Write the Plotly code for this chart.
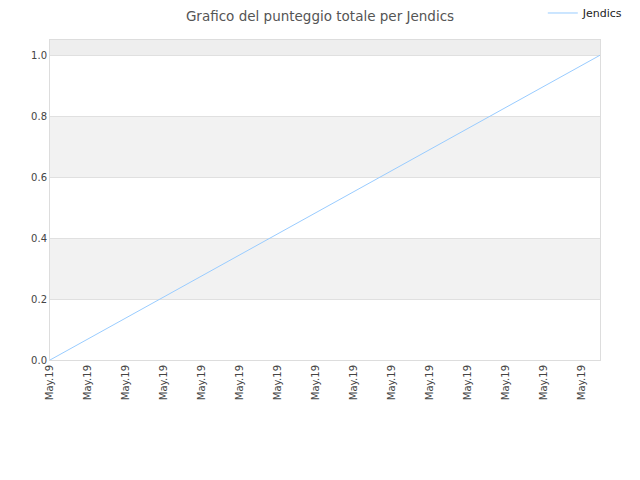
import plotly.graph_objects as go

# series: score over time (one straight climb from 0 to 1)
x_vals = [0, 14.47]
y_vals = [0.0, 1.0]

tick_pos = list(range(15))
tick_text = ["May.19"] * 15

band_edges = [(0.2, 0.4, "#f2f2f2"), (0.6, 0.8, "#f2f2f2"), (1.0, 1.2, "#eeeeee")]

fig = go.Figure()

fig.add_trace(go.Scatter(
    x=x_vals,
    y=y_vals,
    mode="lines",
    name="Jendics",
    line=dict(color="#99ccff", width=1),
))

for y0, y1, col in band_edges:
    fig.add_shape(
        type="rect", xref="paper", yref="y",
        x0=0, x1=1, y0=y0, y1=y1,
        fillcolor=col, line_width=0, layer="below",
    )

# page body has an 8px margin, so margins are offset to land the plot at 50..600 / 40..360
fig.update_layout(
    width=640,
    height=480,
    title=dict(
        text="Grafico del punteggio totale per Jendics",
        x=0.5 - 8 / 640, xanchor="center", y=0.983, yanchor="middle",
        font=dict(family="DejaVu Sans", size=13.5, color="#555555"),
    ),
    font=dict(family="DejaVu Sans", size=10, color="#444444"),
    plot_bgcolor="white",
    paper_bgcolor="white",
    margin=dict(l=42, r=48, t=32, b=128),
    showlegend=True,
    legend=dict(
        xref="paper", yref="container",
        x=0.896, xanchor="left", y=0.9896, yanchor="middle",
        font=dict(size=11, color="#222222"),
        bgcolor="rgba(0,0,0,0)",
    ),
    xaxis=dict(
        range=[0, 14.47],
        tickvals=tick_pos,
        ticktext=tick_text,
        tickangle=-90,
        showgrid=False,
        zeroline=False,
        showline=True,
        linecolor="#dddddd",
        mirror=True,
        ticks="",
    ),
    yaxis=dict(
        range=[0, 1.05],
        tickvals=[0, 0.2, 0.4, 0.6, 0.8, 1.0],
        ticktext=["0.0", "0.2", "0.4", "0.6", "0.8", "1.0"],
        showgrid=True,
        gridcolor="#e0e0e0",
        zeroline=False,
        showline=True,
        linecolor="#dddddd",
        mirror=True,
        ticks="",
    ),
)

fig.write_html("out.html")
